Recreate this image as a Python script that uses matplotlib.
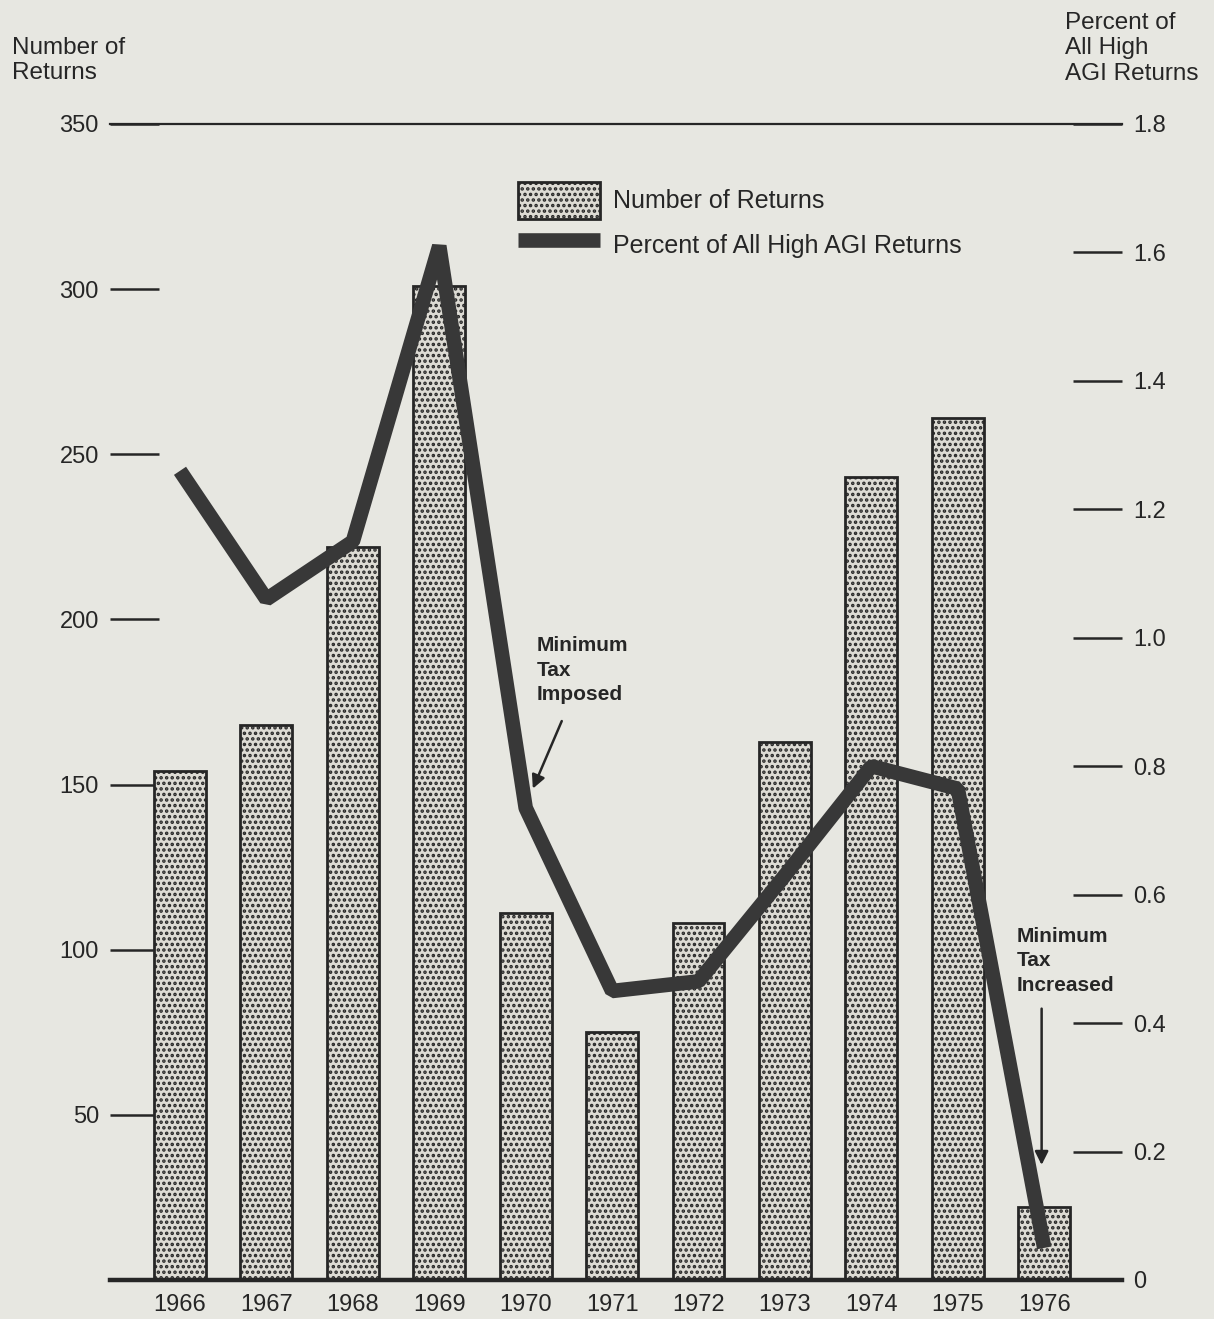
import numpy as np
import matplotlib
matplotlib.use('Agg')
import matplotlib.pyplot as plt

years = ['1966', '1967', '1968', '1969', '1970', '1971',
         '1972', '1973', '1974', '1975', '1976']
num_returns = [154, 168, 222, 301, 111, 75, 108, 163, 243, 261, 22]
pct_high_agi = [1.26, 1.06, 1.15, 1.61, 0.735, 0.45, 0.465, 0.63, 0.80, 0.765, 0.05]

left_ticks = [50, 100, 150, 200, 250, 300, 350]
right_ticks = [0, 0.2, 0.4, 0.6, 0.8, 1.0, 1.2, 1.4, 1.6, 1.8]
right_labels = ['0', '0.2', '0.4', '0.6', '0.8', '1.0', '1.2', '1.4', '1.6', '1.8']

PAPER = '#e7e7e1'
INK = '#262626'
LINE = '#383838'

plt.rcParams['font.family'] = ['Liberation Sans', 'DejaVu Sans']
plt.rcParams['hatch.linewidth'] = 1.7
plt.rcParams['hatch.color'] = INK

fig = plt.figure(figsize=(12.14, 13.19), dpi=100, facecolor=PAPER)
ax = fig.add_axes([110 / 1214, 39 / 1319, 1012 / 1214, 1156 / 1319])
ax.set_facecolor(PAPER)

x = np.arange(len(years))
bars = ax.bar(x, num_returns, width=0.6, color='#dddbd4', edgecolor=INK,
              linewidth=2.0, hatch='...', label='Number of Returns', zorder=2)

ax.set_xlim(-0.81, 10.9)
ax.set_ylim(0, 350)
ax.set_xticks(x)
ax.set_xticklabels(years, fontsize=17, color=INK)
ax.tick_params(axis='x', length=0, pad=10)
ax.set_yticks(left_ticks)
ax.set_yticklabels([str(t) for t in left_ticks], fontsize=17, color=INK)
ax.tick_params(axis='y', direction='in', length=35, width=1.8, pad=8, color=INK)

for side in ['left', 'right']:
    ax.spines[side].set_visible(False)
ax.spines['bottom'].set_linewidth(3.2)
ax.spines['bottom'].set_color(INK)
ax.spines['top'].set_linewidth(1.6)
ax.spines['top'].set_color(INK)

ax2 = ax.twinx()
ax2.set_ylim(0, 1.8)
line, = ax2.plot(x, pct_high_agi, color=LINE, lw=10.5, solid_joinstyle='bevel',
                 solid_capstyle='butt', label='Percent of All High AGI Returns', zorder=5)
ax2.set_yticks(right_ticks)
ax2.set_yticklabels(right_labels, fontsize=17, color=INK)
ax2.tick_params(axis='y', direction='in', length=35, width=1.8, pad=8, color=INK)
for side in ['left', 'right', 'top', 'bottom']:
    ax2.spines[side].set_visible(False)

leg = ax2.legend(handles=[bars, line], loc='upper left', bbox_to_anchor=(0.403, 0.95),
                 frameon=False, fontsize=18, handlelength=3.3, handleheight=1.9,
                 handletextpad=0.5, labelspacing=0.3, borderpad=0, borderaxespad=0)
for t in leg.get_texts():
    t.set_color(INK)

# axis titles
fig.text(12 / 1214, 1 - 37 / 1319, 'Number of\nReturns', fontsize=17.5, color=INK,
         ha='left', va='top', linespacing=1.2)
fig.text(1065 / 1214, 1 - 12 / 1319, 'Percent of\nAll High\nAGI Returns', fontsize=17.5,
         color=INK, ha='left', va='top', linespacing=1.2)

# annotations
ax.text(4.13, 195, 'Minimum\nTax\nImposed', fontsize=15, fontweight='bold',
        color=INK, ha='left', va='top', linespacing=1.38)
ax.annotate('', xy=(4.07, 148), xytext=(4.43, 170),
            arrowprops=dict(arrowstyle='-|>', color=INK, lw=1.8, mutation_scale=20))

ax.text(9.68, 107, 'Minimum\nTax\nIncreased', fontsize=15, fontweight='bold',
        color=INK, ha='left', va='top', linespacing=1.38, zorder=6)
ax.annotate('', xy=(9.97, 34), xytext=(9.97, 83),
            arrowprops=dict(arrowstyle='-|>', color=INK, lw=1.8, mutation_scale=20))

fig.savefig('out.png', dpi=100, facecolor=PAPER)
